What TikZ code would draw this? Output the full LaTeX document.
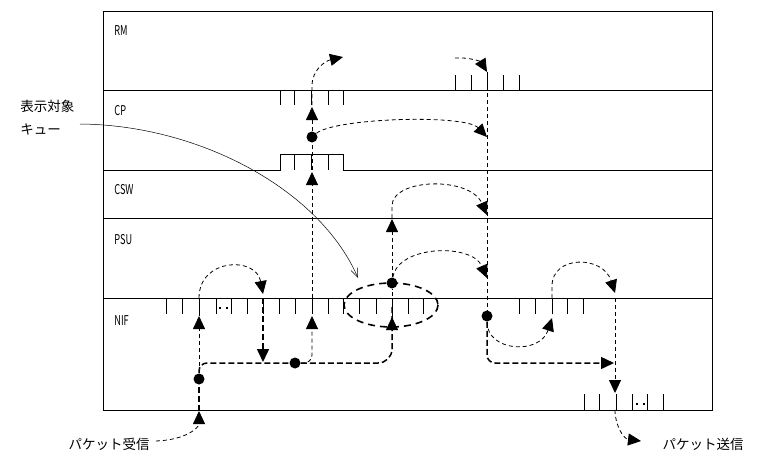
\documentclass[tikz,border=0pt]{standalone}
\usepackage{fontspec}
\setmainfont{Noto Sans CJK JP}
\usetikzlibrary{arrows.meta}
\tikzset{
  dsh/.style={dash pattern=on 4pt off 3pt, line width=0.8pt},
  dshb/.style={dash pattern=on 6pt off 3pt, line width=1.5pt},
  tri/.style={-{Triangle[length=13pt,width=12pt]}},
  dotnode/.style={circle, fill=black, inner sep=0pt, minimum size=11pt},
  lane/.style={anchor=west, inner sep=0pt, font=\fontsize{13.5}{13.5}\selectfont},
  jp/.style={inner sep=0pt, font=\fontsize{13.5}{14}\selectfont},
  tick/.style={line width=0.8pt},
}
\newcommand{\lanelbl}[1]{\scalebox{0.68}[1]{#1}}
\begin{document}
\begin{tikzpicture}[x=1pt,y=-1pt,line width=0.8pt]
\useasboundingbox (0,0) rectangle (763,471);
% frame and lanes
\draw (103,11) rectangle (712,410);
\draw (103,90) -- (712,90);
\draw (103,170) -- (280,170) -- (280,154) -- (343,154) -- (343,170) -- (712,170);
\draw (103,218) -- (712,218);
\draw (103,298) -- (712,298);
\node[lane] (lRM) at (114,31) {\lanelbl{RM}};
\node[lane] (lCP) at (114,111) {\lanelbl{CP}};
\node[lane] (lCSW) at (114,190) {\lanelbl{CSW}};
\node[lane] (lPSU) at (114,240) {\lanelbl{PSU}};
\node[lane] (lNIF) at (114,321) {\lanelbl{NIF}};
% queues
\foreach \x in {455,471,487,503,519} \draw[tick] (\x,75) -- (\x,90);
\foreach \x in {280,294,311,328,343} \draw[tick] (\x,90) -- (\x,105);
\foreach \x in {294,311,328} \draw[tick] (\x,154) -- (\x,170);
\foreach \x in {166,182,199,216,231,247,263,279,295,312,328} \draw[tick] (\x,298) -- (\x,314);
\fill (219,307) rectangle +(1.5,1.5);
\fill (226,307) rectangle +(1.5,1.5);
\foreach \x in {343,359,376,392,408,423} \draw[tick] (\x,298) -- (\x,314);
\foreach \x in {519,535,552,567,583} \draw[tick] (\x,298) -- (\x,314);
\foreach \x in {584,599,616,632,647,663} \draw[tick] (\x,394) -- (\x,410);
\fill (636,403) rectangle +(1.5,1.5);
\fill (643,403) rectangle +(1.5,1.5);
% display target ellipse
\draw[line width=1.6pt, dash pattern=on 7pt off 5pt] (391,305) ellipse [x radius=47, y radius=22];
% labels
\node[jp, anchor=west] (lbl1) at (20,106) {表示対象};
\node[jp, anchor=west] (lbl2) at (20,129) {キュー};
\node[jp] (recv) at (109,444) {パケット受信};
\node[jp] (send) at (703,444) {パケット送信};
\coordinate (lblend) at (80,124);
\coordinate (ellpt) at (358,278);
\draw[line width=0.5pt, -{Straight Barb[length=9pt,width=7pt]}] (lblend) .. controls (200,125) and (320,190) .. (ellpt);
% dots
\node[dotnode] (d1) at (199,379) {};
\node[dotnode] (d2) at (295,363) {};
\node[dotnode] (d3) at (312,137) {};
\node[dotnode] (d4) at (392,283) {};
\node[dotnode] (d5) at (487,316) {};
% coordinates
\coordinate (inTop) at (199,411);
\coordinate (nA) at (199,316);
\coordinate (nAt) at (199,298);
\coordinate (nB) at (263,294);
\coordinate (nBt) at (263,298);
\coordinate (nBd) at (263,362);
\coordinate (nC) at (312,316);
\coordinate (nCt) at (312,298);
\coordinate (cswUp) at (312,172);
\coordinate (cswT) at (312,170);
\coordinate (cpUp) at (312,107);
\coordinate (cpT) at (312,105);
\coordinate (rmOut) at (343,57);
\coordinate (cpIn) at (487,137);
\coordinate (eA) at (392,317);
\coordinate (psuUp) at (392,219);
\coordinate (psuT) at (392,218);
\coordinate (cswIn) at (487,215);
\coordinate (psuIn) at (487,278);
\coordinate (rmS) at (455,58);
\coordinate (rmIn) at (487,72);
\coordinate (nD) at (552,318);
\coordinate (nDt) at (552,298);
\coordinate (hE) at (614,363);
\coordinate (psuIn2) at (615,293);
\coordinate (nEt) at (615,298);
\coordinate (outQ) at (615,393);
\coordinate (outB) at (615,410);
\coordinate (outA) at (641,441);
% receive path
\draw[dsh, tri] (recv.east) ++(6,-3) .. controls (185,440) and (199,428) .. (inTop);
\draw[dshb] (inTop) -- (d1);
\draw[dsh, tri] (d1) -- (nA);
\draw[dsh] (nA) -- (nAt);
\draw[dsh, tri] (nAt) .. controls (199,258) and (256,256) .. (nB);
\draw[dshb, tri] (nBt) -- (nBd);
\draw[dshb, rounded corners=8pt] (d1) |- (d2);
\draw[dshb, rounded corners=14pt] (d2) -| ([yshift=10pt]eA);
\draw[dsh, tri] (392,330) -- (eA);
\draw[dsh, tri, rounded corners=8pt] (d2) -| (nC);
\draw[dsh, tri] (nCt) -- (cswUp);
\draw[dsh] (cswT) -- (d3);
\draw[dsh, tri] (d3) -- (cpUp);
\draw[dsh, tri] (cpT) -- (312,86) .. controls (312,70) and (325,61) .. (rmOut);
\draw[dsh, tri] (d3) .. controls (335,118) and (465,114) .. (cpIn);
\draw[dsh] (eA) -- (d4);
\draw[dsh, tri] (d4) -- (psuUp);
\draw[dsh, tri] (psuT) -- (392,206) .. controls (392,178) and (470,176) .. (cswIn);
\draw[dsh, tri] (d4) .. controls (398,245) and (472,243) .. (psuIn);
% transfer / send path
\draw[dsh, tri] (rmS) .. controls (470,57) and (481,62) .. (rmIn);
\draw[dsh] (rmIn) -- (d5);
\draw[dsh, tri] (d5) .. controls (487,352) and (540,355) .. (nD);
\draw[dshb, tri, rounded corners=8pt] (d5) |- (hE);
\draw[dsh, tri] (nDt) -- (552,286) .. controls (552,255) and (603,255) .. (psuIn2);
\draw[dsh, tri] (nEt) -- (outQ);
\draw[dsh, tri] (outB) .. controls (615,426) and (624,439) .. (outA);
\end{tikzpicture}
\end{document}
